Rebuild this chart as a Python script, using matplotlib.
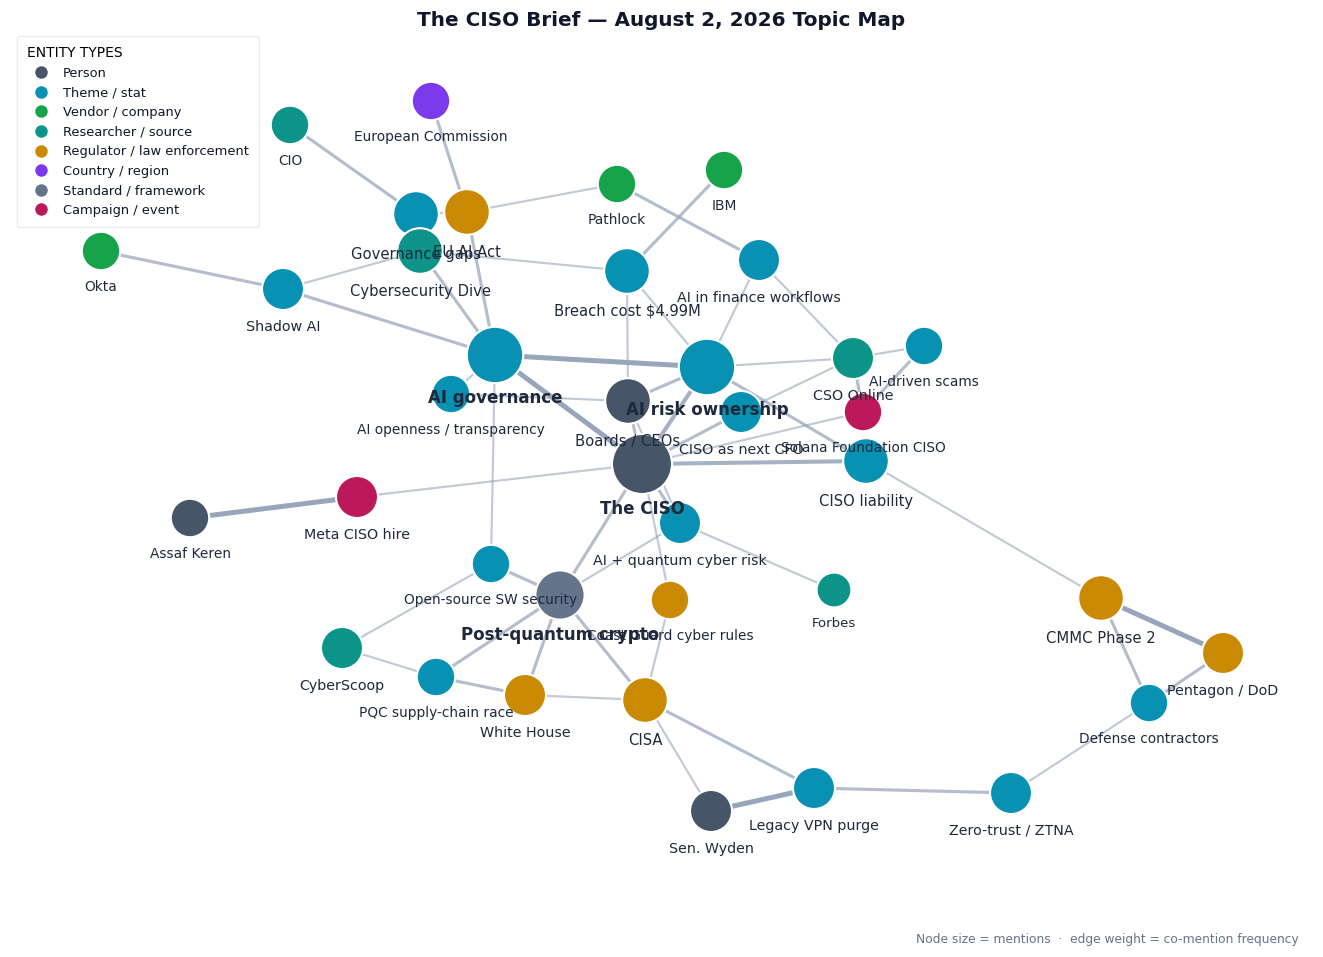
import matplotlib
matplotlib.use("Agg")
import matplotlib.pyplot as plt
from matplotlib.lines import Line2D

# ---------------- data ----------------
type_names = ["Person", "Theme / stat", "Vendor / company", "Researcher / source",
              "Regulator / law enforcement", "Country / region", "Standard / framework",
              "Campaign / event"]
type_colors = ["#475569", "#0891b2", "#16a34a", "#0d9488",
               "#ca8a04", "#7c3aed", "#64748b", "#be185d"]

node_names = [
    "European Commission", "CIO", "Pathlock", "IBM", "Okta",
    "Governance gaps", "EU AI Act", "Cybersecurity Dive",
    "Breach cost $4.99M", "AI in finance workflows", "Shadow AI",
    "AI governance", "AI openness / transparency", "AI risk ownership",
    "CSO Online", "AI-driven scams", "Boards / CEOs", "CISO as next CFO",
    "Solana Foundation CISO", "The CISO", "CISO liability",
    "Meta CISO hire", "Assaf Keren", "AI + quantum cyber risk", "Forbes",
    "Open-source SW security", "Post-quantum crypto", "Coast Guard cyber rules",
    "CyberScoop", "PQC supply-chain race", "White House", "CISA",
    "Sen. Wyden", "Legacy VPN purge", "Zero-trust / ZTNA",
    "CMMC Phase 2", "Pentagon / DoD", "Defense contractors",
]
node_types = [
    "Country / region", "Researcher / source", "Vendor / company", "Vendor / company", "Vendor / company",
    "Theme / stat", "Regulator / law enforcement", "Researcher / source",
    "Theme / stat", "Theme / stat", "Theme / stat",
    "Theme / stat", "Theme / stat", "Theme / stat",
    "Researcher / source", "Theme / stat", "Person", "Theme / stat",
    "Campaign / event", "Person", "Theme / stat",
    "Campaign / event", "Person", "Theme / stat", "Researcher / source",
    "Theme / stat", "Standard / framework", "Regulator / law enforcement",
    "Researcher / source", "Theme / stat", "Regulator / law enforcement", "Regulator / law enforcement",
    "Person", "Theme / stat", "Theme / stat",
    "Regulator / law enforcement", "Regulator / law enforcement", "Theme / stat",
]
node_mentions = [
    4, 4, 4, 4, 4,
    6, 6, 6,
    6, 5, 5,
    9, 4, 9,
    5, 4, 6, 5,
    4, 10, 6,
    5, 4, 5, 3,
    4, 7, 4,
    5, 4, 5, 6,
    5, 5, 5,
    6, 5, 4,
]

edge_src = [
    "Okta", "Shadow AI", "Shadow AI", "CIO", "European Commission", "EU AI Act",
    "Governance gaps", "Pathlock", "IBM", "Cybersecurity Dive", "Cybersecurity Dive",
    "EU AI Act", "AI governance", "AI governance", "AI governance", "AI governance",
    "AI openness / transparency", "Breach cost $4.99M", "Breach cost $4.99M",
    "AI in finance workflows", "AI in finance workflows", "AI risk ownership",
    "CSO Online", "AI-driven scams", "CSO Online", "AI risk ownership",
    "AI risk ownership", "AI risk ownership", "CSO Online", "The CISO",
    "CISO as next CFO", "The CISO", "The CISO", "Meta CISO hire", "Boards / CEOs",
    "Boards / CEOs", "The CISO", "The CISO", "The CISO", "AI + quantum cyber risk",
    "AI + quantum cyber risk", "CISO liability", "CMMC Phase 2", "CMMC Phase 2",
    "Pentagon / DoD", "Defense contractors", "Zero-trust / ZTNA", "Legacy VPN purge",
    "CISA", "CISA", "CISA", "CISA", "CISA", "White House", "White House",
    "PQC supply-chain race", "PQC supply-chain race", "CyberScoop", "Open-source SW security",
]
edge_dst = [
    "Shadow AI", "AI governance", "Cybersecurity Dive", "Governance gaps", "EU AI Act", "Pathlock",
    "EU AI Act", "AI in finance workflows", "Breach cost $4.99M", "Breach cost $4.99M", "AI governance",
    "AI governance", "AI risk ownership", "The CISO", "AI openness / transparency", "Open-source SW security",
    "Boards / CEOs", "Boards / CEOs", "AI risk ownership",
    "AI risk ownership", "CSO Online", "CSO Online",
    "AI-driven scams", "Solana Foundation CISO", "Solana Foundation CISO", "The CISO",
    "Boards / CEOs", "CISO liability", "CISO as next CFO", "Solana Foundation CISO",
    "The CISO", "CISO liability", "Meta CISO hire", "Assaf Keren", "The CISO",
    "AI + quantum cyber risk", "AI + quantum cyber risk", "Post-quantum crypto", "Coast Guard cyber rules", "Forbes",
    "Post-quantum crypto", "CMMC Phase 2", "Pentagon / DoD", "Defense contractors",
    "Defense contractors", "Zero-trust / ZTNA", "Legacy VPN purge", "Sen. Wyden",
    "Legacy VPN purge", "Sen. Wyden", "Coast Guard cyber rules", "White House", "Post-quantum crypto", "Post-quantum crypto", "PQC supply-chain race",
    "Post-quantum crypto", "CyberScoop", "Open-source SW security", "Post-quantum crypto",
]
edge_weight = [
    2, 2, 1, 2, 2, 1,
    1, 2, 2, 1, 2,
    2, 4, 4, 1, 1,
    1, 1, 1,
    1, 1, 1,
    1, 2, 2, 3,
    2, 2, 1, 1,
    2, 3, 1, 4, 2,
    1, 2, 2, 1, 1,
    1, 1, 4, 2,
    2, 1, 2, 4,
    2, 1, 1, 1, 2, 2, 2,
    2, 1, 1, 2,
]

# ---------------- layout (pixel positions on the 1323x957 canvas) ----------------
layout = {
    "European Commission": (431, 101), "CIO": (290, 125), "Pathlock": (617, 184),
    "IBM": (724, 170), "Okta": (101, 251), "Governance gaps": (416, 214),
    "EU AI Act": (467, 212), "Cybersecurity Dive": (420, 251),
    "Breach cost $4.99M": (627, 271), "AI in finance workflows": (759, 260),
    "Shadow AI": (283, 289), "AI governance": (495, 355),
    "AI openness / transparency": (451, 394), "AI risk ownership": (707, 367),
    "CSO Online": (853, 358), "AI-driven scams": (924, 346), "Boards / CEOs": (628, 401),
    "CISO as next CFO": (741, 412), "Solana Foundation CISO": (863, 412),
    "The CISO": (642, 464), "CISO liability": (866, 461), "Meta CISO hire": (357, 497),
    "Assaf Keren": (190, 518), "AI + quantum cyber risk": (680, 523), "Forbes": (834, 590),
    "Open-source SW security": (491, 564), "Post-quantum crypto": (560, 595),
    "Coast Guard cyber rules": (670, 600), "CyberScoop": (342, 648),
    "PQC supply-chain race": (436, 677), "White House": (525, 695), "CISA": (645, 700),
    "Sen. Wyden": (711, 811), "Legacy VPN purge": (814, 788), "Zero-trust / ZTNA": (1011, 793),
    "CMMC Phase 2": (1101, 598), "Pentagon / DoD": (1223, 653), "Defense contractors": (1149, 703),
}

W, H, DPI = 1323, 957, 100
PT = 72.0 / DPI  # points per pixel

def radius_px(m):
    return 12 + 1.8 * m

color_of = dict(zip(type_names, type_colors))

fig = plt.figure(figsize=(W / DPI, H / DPI), dpi=DPI)
ax = fig.add_axes([0, 0, 1, 1])
ax.set_xlim(0, W)
ax.set_ylim(H, 0)
ax.axis("off")

# edges
for s, d, w in zip(edge_src, edge_dst, edge_weight):
    (x1, y1), (x2, y2) = layout[s], layout[d]
    ax.plot([x1, x2], [y1, y2], color="#94a3b8", alpha=0.45 + 0.13 * w,
            lw=(1.2 + 0.95 * w) * PT, solid_capstyle="butt", zorder=1)

# nodes
xs = [layout[n][0] for n in node_names]
ys = [layout[n][1] for n in node_names]
sizes = [(2 * radius_px(m) * PT) ** 2 for m in node_mentions]
cols = [color_of[t] for t in node_types]
ax.scatter(xs, ys, s=sizes, c=cols, edgecolors="white", linewidths=1.5, zorder=2)

# labels
for n, m, x, y in zip(node_names, node_mentions, xs, ys):
    big = m >= 7
    fs = 12 if big else 8.6 + 0.33 * m
    gap = 6 if big else 10
    ax.annotate(n, (x, y), xytext=(0, -(radius_px(m) + gap) * PT), textcoords="offset points",
                ha="center", va="top", fontsize=fs, color="#1e293b",
                fontweight="bold" if big else "normal", zorder=3)

# title
fig.text(0.5, 1 - 20 / H, "The CISO Brief \u2014 August 2, 2026 Topic Map", ha="center", va="center",
         fontsize=14.4, fontweight="bold", color="#0f172a")

# footer
fig.text(1299 / W, 1 - 939 / H, "Node size = mentions  \u00b7  edge weight = co-mention frequency",
         ha="right", va="center", fontsize=8.8, color="#64748b")

# legend
handles = [Line2D([0], [0], marker="o", linestyle="none", markersize=10,
                  markerfacecolor=c, markeredgecolor="white", markeredgewidth=1.0)
           for c in type_colors]
leg = fig.legend(handles, type_names, loc="upper left",
                 bbox_to_anchor=(17 / W, 1 - 36 / H), borderaxespad=0,
                 title="ENTITY TYPES", title_fontsize=10, fontsize=9.4,
                 frameon=True, fancybox=True, labelspacing=0.5, handletextpad=0.7,
                 borderpad=0.8, alignment="left")
leg.get_frame().set_edgecolor("#e2e8f0")
leg.get_frame().set_linewidth(1.0)
for t in leg.get_texts():
    t.set_color("#0f172a")

fig.savefig("out.png", dpi=DPI, facecolor="white")
